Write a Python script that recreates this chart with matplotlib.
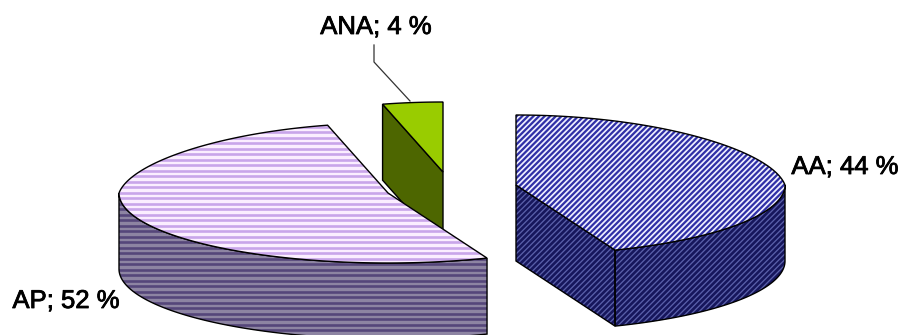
import numpy as np
import matplotlib
matplotlib.use("Agg")
from matplotlib import pyplot as plt
from matplotlib import patheffects
from matplotlib.collections import LineCollection
from matplotlib.patches import Polygon

plt.rcParams['font.family'] = ['Liberation Sans', 'DejaVu Sans']

# pie data
names = ["AA", "AP", "ANA"]
shares = [44, 52, 4]

# layout of the exploded 3D pie, in pixels
centers = {"AA": (516, 185), "AP": (388, 193), "ANA": (443, 172)}
RX, RY = 269, 70
DEPTH = 76
BACK_SQUEEZE = 0.1  # the far side of the pie looks a bit narrower

W, H = 902, 335
fig = plt.figure(figsize=(W / 100, H / 100), dpi=100)
ax = fig.add_axes([0, 0, 1, 1])
ax.set_xlim(0, W)
ax.set_ylim(H, 0)
ax.axis("off")


def rim(center, a0, a1):
    # points on the ellipse, angle clockwise from the back of the pie
    t = np.radians(np.linspace(a0, a1, 200))
    squeeze = 1 - BACK_SQUEEZE * np.clip(np.cos(t), 0, None)
    return np.column_stack([center[0] + RX * np.sin(t) * squeeze,
                            center[1] - RY * np.cos(t)])


def striped(pts, base, stripe, lw, period, slope, z):
    # polygon with a base colour and clipped stripes on top, then its outline
    patch = Polygon(pts, closed=True, facecolor=base, edgecolor="none", zorder=z)
    ax.add_patch(patch)
    if stripe is not None:
        if slope:
            offs = np.arange(-H, W + H, period)
            segs = [[(o, H), (o + H, 0)] for o in offs]
        else:
            offs = np.arange(0, H, period)
            segs = [[(0, o), (W, o)] for o in offs]
        lines = LineCollection(segs, colors=stripe, linewidths=lw, zorder=z)
        ax.add_collection(lines)
        lines.set_clip_path(patch)
    ax.add_patch(Polygon(pts, closed=True, facecolor="none", edgecolor="black",
                         linewidth=1.0, zorder=z + 0.5))


def wedge(name, a0, a1, cut_angle, top, side, period, slope, z):
    c = np.array(centers[name], float)
    # outer wall on the front half of the pie
    lo, hi = max(a0, 90), min(a1, 270)
    if lo < hi:
        arc = rim(c, lo, hi)
        striped(np.vstack([arc, arc[::-1] + [0, DEPTH]]), *side, period, slope, z)
    # cut face that looks towards the viewer
    if cut_angle is not None:
        p = rim(c, cut_angle, cut_angle)[0]
        face = np.array([c, p, p + [0, DEPTH], c + [0, DEPTH]])
        striped(face, *side, period, slope, z)
    striped(np.vstack([[c], rim(c, a0, a1)]), *top, period, slope, z + 1)


# (base, stripe, stripe width)
styles = {
    "AA": (("#eeeeff", "#2f2fa6", 1.6), ("#5a60aa", "#16165c", 1.9), 5.6, True),
    "AP": (("#fbeeff", "#c9a5ea", 1.9), ("#8d84a2", "#55467a", 1.9), 5.5, False),
    "ANA": (("#99cc00", None, 0), ("#4d6600", None, 0), 5.0, False),
}
zorders = {"AA": 1, "ANA": 3, "AP": 5}

angles = np.cumsum([0] + shares) * 3.6
cut_faces = {"AA": angles[1], "AP": None, "ANA": angles[2]}
for name, a0, a1 in zip(names, angles[:-1], angles[1:]):
    top, side, period, slope = styles[name]
    wedge(name, a0, a1, cut_faces[name], top, side, period, slope, zorders[name])

# labels
label_pos = {"AA": (845, 167), "AP": (66, 301), "ANA": (376, 27)}
for name, share in zip(names, shares):
    x, y = label_pos[name]
    txt = ax.text(x, y, "%s; %d %%" % (name, share), fontsize=18.5, color="black",
                  ha="center", va="center", zorder=10)
    txt.set_path_effects([patheffects.withStroke(linewidth=0.6, foreground="black")])

# leader line of the small slice
ax.plot([374, 374, 410], [45, 62, 101], color="#333333", lw=0.9, zorder=9)

fig.savefig("out.png", dpi=100, facecolor="white")
